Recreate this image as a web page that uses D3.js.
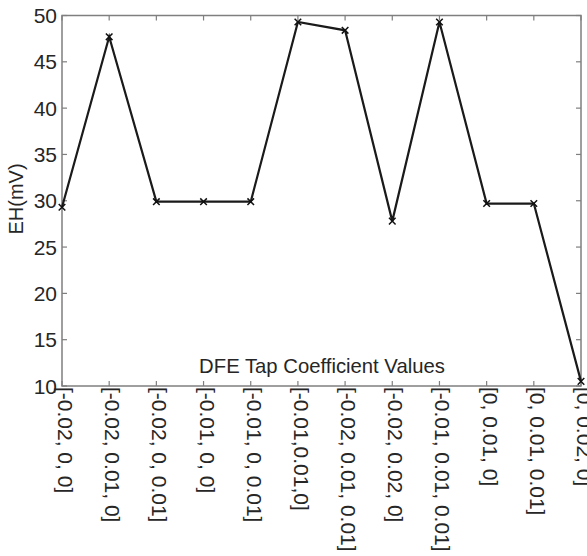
<!DOCTYPE html>
<html>
<head>
<meta charset="utf-8">
<script src="https://cdn.jsdelivr.net/npm/d3@7/dist/d3.min.js"></script>
<style>
  html, body { margin: 0; padding: 0; background: #fff; }
  svg { display: block; font-family: "Liberation Sans", Arial, sans-serif; }
</style>
</head>
<body>
<svg id="chart" width="587" height="556"></svg>
<script>
// DFE tap coefficient settings and the measured eye height for each
const categories = [
  "[-0.02, 0, 0]", "[-0.02, 0.01, 0]", "[-0.02, 0, 0.01]", "[-0.01, 0, 0]",
  "[-0.01, 0, 0.01]", "[-0.01,0.01,0]", "[-0.02, 0.01, 0.01]", "[-0.02, 0.02, 0]",
  "[-0.01, 0.01, 0.01]", "[0, 0.01, 0]", "[0, 0.01, 0.01]", "[0, 0.02, 0]"
];
const eyeHeight = [29.3, 47.7, 29.9, 29.9, 29.9, 49.3, 48.4, 27.8, 49.3, 29.7, 29.7, 10.5];
const yTicks = [10, 15, 20, 25, 30, 35, 40, 45, 50];

const svg = d3.select("#chart");
const m = { left: 62, right: 581, top: 15.5, bottom: 386 };
const axisColor = "#7f7f7f";
const textColor = "#262626";

const x = d3.scalePoint().domain(d3.range(categories.length)).range([m.left, m.right]);
const y = d3.scaleLinear().domain([10, 50]).range([m.bottom, m.top]);

// frame
svg.append("rect")
  .attr("x", m.left).attr("y", m.top)
  .attr("width", m.right - m.left).attr("height", m.bottom - m.top)
  .attr("fill", "none").attr("stroke", axisColor).attr("stroke-width", 1.5);

// inward ticks on all four sides
const tickLen = 5;
const ticks = svg.append("g").attr("stroke", axisColor).attr("stroke-width", 1.2);
yTicks.forEach(v => {
  ticks.append("line").attr("x1", m.left).attr("x2", m.left + tickLen).attr("y1", y(v)).attr("y2", y(v));
  ticks.append("line").attr("x1", m.right).attr("x2", m.right - tickLen).attr("y1", y(v)).attr("y2", y(v));
});
categories.forEach((c, i) => {
  ticks.append("line").attr("x1", x(i)).attr("x2", x(i)).attr("y1", m.bottom).attr("y2", m.bottom - tickLen);
  ticks.append("line").attr("x1", x(i)).attr("x2", x(i)).attr("y1", m.top).attr("y2", m.top + tickLen);
});

// y tick labels
svg.append("g").selectAll("text").data(yTicks).join("text")
  .attr("x", m.left - 5).attr("y", d => y(d)).attr("dy", "0.36em")
  .attr("text-anchor", "end").attr("font-size", 21).attr("fill", textColor)
  .text(d => d);

// x tick labels, rotated to read downward
svg.append("g").selectAll("text").data(categories).join("text")
  .attr("transform", (d, i) => `translate(${x(i)},${m.bottom + 1}) rotate(90)`)
  .attr("x", 0).attr("y", 4)
  .attr("text-anchor", "start").attr("font-size", 21).attr("fill", textColor)
  .text(d => d);

// axis titles
svg.append("text")
  .attr("x", 322).attr("y", 373).attr("text-anchor", "middle")
  .attr("font-size", 20.3).attr("fill", textColor)
  .text("DFE Tap Coefficient Values");
svg.append("text")
  .attr("transform", "translate(23,199) rotate(-90)")
  .attr("text-anchor", "middle").attr("font-size", 20).attr("fill", textColor)
  .text("EH(mV)");

// data line and markers
const line = d3.line().x((d, i) => x(i)).y(d => y(d));
svg.append("path").datum(eyeHeight)
  .attr("d", line).attr("fill", "none").attr("stroke", "#1a1a1a").attr("stroke-width", 2.2);

svg.append("g").selectAll("path").data(eyeHeight).join("path")
  .attr("transform", (d, i) => `translate(${x(i)},${y(d)})`)
  .attr("d", d3.symbol(d3.symbolX, 30))
  .attr("fill", "none").attr("stroke", "#111").attr("stroke-width", 1.5);
</script>
</body>
</html>
